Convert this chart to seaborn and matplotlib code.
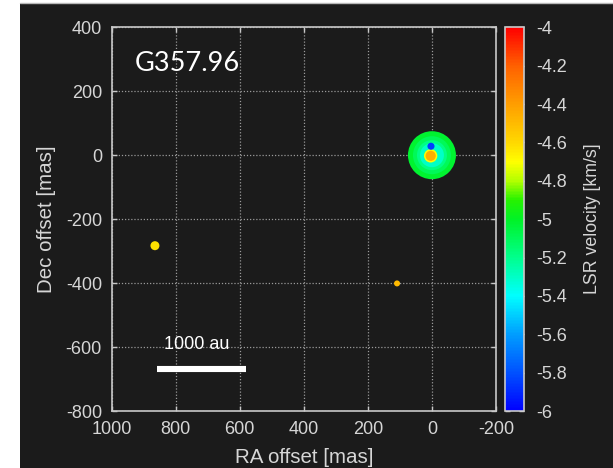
import matplotlib
matplotlib.use("Agg")
import matplotlib.pyplot as plt
from matplotlib.colors import LinearSegmentedColormap, Normalize
from matplotlib.cm import ScalarMappable
from matplotlib.patches import Rectangle
from matplotlib.lines import Line2D
import pandas as pd
import seaborn as sns

# Maser spots: offsets from the reference position, LSR velocity and peak flux
ra_offset = [0, 0, 0, 0, 4, 4, 3, 865, 109]           # mas
dec_offset = [0, 0, 0, 0, -2, -2, 28, -283, -401]     # mas
vlsr = [-5.02, -5.10, -5.18, -5.30, -4.70, -4.46, -5.85, -4.62, -4.50]  # km/s
peak_flux = [59.7, 37.4, 23.3, 14.9, 4.6, 2.7, 1.3, 2.1, 0.93]         # Jy

source_name = "G357.96"
scale_label = "1000 au"
scale_ra = [857, 580]      # mas, span corresponding to 1000 au
scale_dec = -668

x_ticks = [1000, 800, 600, 400, 200, 0, -200]
y_ticks = [400, 200, 0, -200, -400, -600, -800]
cbar_ticks = [-6, -5.8, -5.6, -5.4, -5.2, -5, -4.8, -4.6, -4.4, -4.2, -4]

df = pd.DataFrame({"ra": ra_offset, "dec": dec_offset, "vlsr": vlsr, "flux": peak_flux})

sns.set_theme(style="ticks")
plt.rcParams["font.family"] = ["Liberation Sans", "DejaVu Sans"]
plt.rcParams["axes.unicode_minus"] = False

BG = "#1b1b1b"
FG = "#d6d6d6"
FRAME = "#c8c8c8"

# gnuplot-like rainbow palette
cmap = LinearSegmentedColormap.from_list("vel", [
    (0.00, (0.0, 0.0, 1.0)),
    (0.10, (0.0, 0.32, 1.0)),
    (0.20, (0.0, 0.62, 1.0)),
    (0.30, (0.0, 1.0, 1.0)),
    (0.40, (0.0, 1.0, 0.55)),
    (0.50, (0.0, 0.95, 0.15)),
    (0.55, (0.15, 0.95, 0.0)),
    (0.60, (0.7, 1.0, 0.0)),
    (0.65, (1.0, 1.0, 0.0)),
    (0.70, (1.0, 0.85, 0.0)),
    (0.80, (1.0, 0.62, 0.0)),
    (0.90, (1.0, 0.38, 0.0)),
    (1.00, (1.0, 0.0, 0.0)),
])
norm = Normalize(vmin=-6, vmax=-4)

fig = plt.figure(figsize=(6.13, 4.68), dpi=100, facecolor="white")
fig.patches.append(Rectangle((20 / 613, 0), 1 - 20 / 613, 1 - 4 / 468,
                             transform=fig.transFigure, facecolor=BG,
                             edgecolor="none", zorder=-10))
fig.lines.append(Line2D([20 / 613, 1], [1 - 3 / 468, 1 - 3 / 468],
                        transform=fig.transFigure, color="#b8b8b8", lw=1))

ax = fig.add_axes([111.7 / 613, 57 / 468, 384.3 / 613, 383.7 / 468])
ax.set_facecolor(BG)
ax.set_axisbelow(True)

sns.scatterplot(data=df, x="ra", y="dec", hue="vlsr", palette=cmap, hue_norm=norm,
                size="flux", sizes=(0, 1200), size_norm=(0, 60),
                linewidth=0, legend=False, ax=ax, zorder=3)

ax.set_xlim(1000, -200)
ax.set_ylim(-800, 400)
ax.set_xticks(x_ticks)
ax.set_yticks(y_ticks)
ax.grid(True, color="#9a9a9a", linestyle=(0, (1, 1.5)), linewidth=0.9)
ax.tick_params(direction="in", top=True, right=True, length=3.6, width=1,
               color=FRAME, labelcolor=FG, labelsize=13, pad=7)
for sp in ax.spines.values():
    sp.set_color(FRAME)
    sp.set_linewidth(1.2)

ax.set_xlabel("RA offset [mas]", color=FG, fontsize=14.8, va="top")
ax.xaxis.set_label_coords(0.5, -0.097)
ax.set_ylabel("Dec offset [mas]", color=FG, fontsize=14.8, va="center")
ax.yaxis.set_label_coords(-0.169, 0.5)

ax.text(927, 264, source_name, color="white", fontsize=19.5,
        family=["Lato", "DejaVu Sans"], ha="left", va="baseline")

ax.plot(scale_ra, [scale_dec, scale_dec], color="white", lw=4.4,
        solid_capstyle="butt", zorder=4)
ax.text(sum(scale_ra) / 2 + 15, -606, scale_label, color="white", fontsize=13,
        ha="center", va="baseline", zorder=4)

cax = fig.add_axes([505 / 613, 57 / 468, 19 / 613, 383.7 / 468])
cb = fig.colorbar(ScalarMappable(norm=norm, cmap=cmap), cax=cax, ticks=cbar_ticks)
cb.outline.set_edgecolor(FRAME)
cb.outline.set_linewidth(1.2)
cax.yaxis.set_major_formatter(matplotlib.ticker.FormatStrFormatter("%g"))
cax.tick_params(direction="in", left=True, right=True, length=3.6, width=1,
                color="#e0e0e0", labelcolor=FG, labelsize=13, pad=9)
cb.set_label("LSR velocity [km/s]", color=FG, fontsize=12.8, va="center")
cax.yaxis.set_label_coords(4.63, 0.5)

fig.savefig("out.png", dpi=100, facecolor=fig.get_facecolor())
